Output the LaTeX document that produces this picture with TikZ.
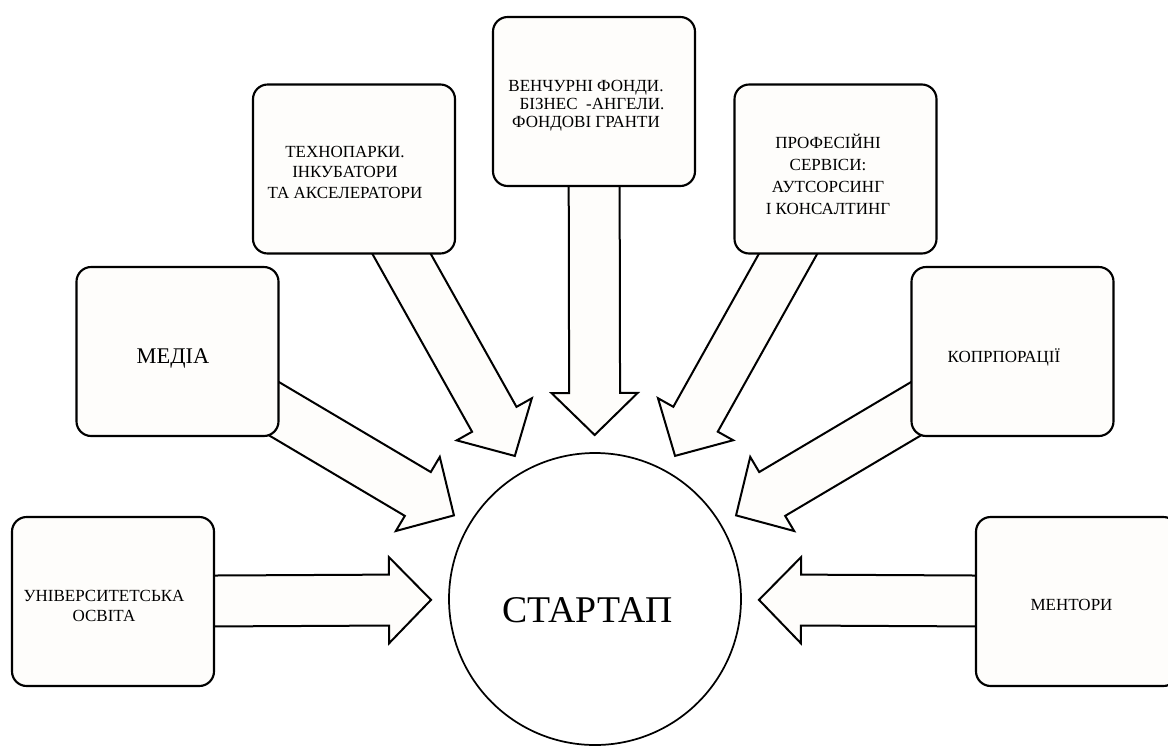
\documentclass[tikz,border=0pt]{standalone}
\usepackage{fontspec}
\setmainfont{Liberation Serif}
\usetikzlibrary{calc,backgrounds}
\definecolor{paper}{RGB}{254,253,251}

% block arrow from a box (#1) to a tip coordinate (#2)
\newcommand{\blockarr}[2]{%
  \coordinate (hb) at ($(#2)!31.5pt!(#1.center)$);
  \draw[arr] ($(#1.center)!19.1pt!90:(#2)$) -- ($(hb)!19.1pt!90:(#2)$) -- ($(hb)!32.3pt!90:(#2)$) -- (#2)
    -- ($(hb)!32.3pt!-90:(#2)$) -- ($(hb)!19.1pt!-90:(#2)$) -- ($(#1.center)!19.1pt!-90:(#2)$) -- cycle;
}

\begin{document}
\begin{tikzpicture}[x=0.75pt,y=0.75pt,yscale=-1,xscale=1,
  box/.style={draw, line width=1.6pt, fill=paper, rounded corners=11pt, minimum width=151.5pt, minimum height=126.75pt, inner sep=0pt},
  arr/.style={draw, line width=1.5pt, fill=paper},
  txt/.style={inner sep=0pt, align=center, font=\fontsize{12.75}{15}\selectfont}]
\useasboundingbox (0,0) rectangle (1168,747);

%Shape: Circle
\node[draw, circle, line width=1.3pt, fill=white, minimum size=219pt, inner sep=0pt] (start) at (595,599) {};

%Rounded Rect
\node[box] (univ) at (113,601.5) {};
\node[box] (media) at (177.5,351.5) {};
\node[box] (tech) at (354,169) {};
\node[box] (vent) at (594,101.5) {};
\node[box] (prof) at (835.5,169) {};
\node[box] (corp) at (1012.5,351.5) {};
\node[box] (ment) at (1077,601.5) {};

%Arrows
\begin{scope}[on background layer]
\foreach \b in {univ,media,tech,vent,prof,corp,ment}{
  \coordinate (\b-tip) at ($(start.center)!123pt!(\b.center)$);
  \blockarr{\b}{\b-tip}
}
\end{scope}

% Text Node
\node[txt] (univ-txt) at (104,605.5) {УНІВЕРСИТЕТСЬКА\\ОСВІТА};
% Text Node
\node[txt, anchor=base, font=\fontsize{16.8}{20}\selectfont] (media-txt) at (173,363) {МЕДІА};
% Text Node
\node[txt, font=\fontsize{12.75}{15.4}\selectfont] (tech-txt) at (345,172) {ТЕХНОПАРКИ.\\ІНКУБАТОРИ\\ТА АКСЕЛЕРАТОРИ};
% Text Node
\node[txt, font=\fontsize{12.75}{13.5}\selectfont] (vent-txt) at (586,106) {ВЕНЧУРНІ ФОНДИ.\\\hspace{9pt}БІЗНЕС\ \ -АНГЕЛИ.\\ФОНДОВІ ГРАНТИ};
% Text Node
\node[txt, font=\fontsize{12.75}{16.5}\selectfont] (prof-txt) at (828,174.5) {ПРОФЕСІЙНІ\\СЕРВІСИ:\\АУТСОРСИНГ\\І КОНСАЛТИНГ};
% Text Node
\node[txt, anchor=base] (corp-txt) at (1004,362) {КОПРПОРАЦІЇ};
% Text Node
\node[txt, anchor=base] (ment-txt) at (1071.5,610) {МЕНТОРИ};
% Text Node
\node[inner sep=0pt, anchor=base, font=\fontsize{28.3}{34}\selectfont] (start-txt) at (587.5,622) {СТАРТАП};
\end{tikzpicture}
\end{document}
